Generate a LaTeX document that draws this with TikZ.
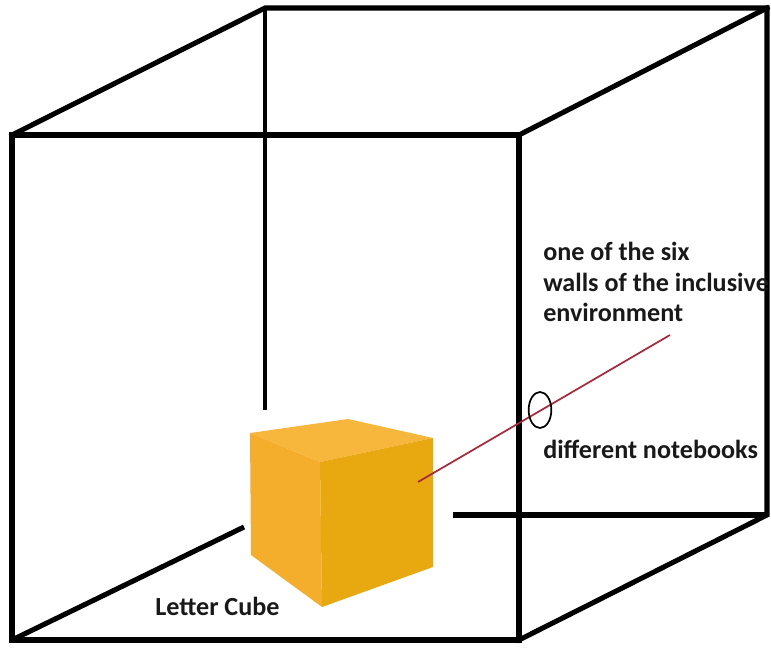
\documentclass[tikz,border=0pt]{standalone}
\usepackage{fontspec}
\setmainfont{Carlito}
\usetikzlibrary{positioning,shapes.geometric}

\definecolor{cubetop}{HTML}{F7B63C}
\definecolor{cubeleft}{HTML}{F4AE2C}
\definecolor{cuberight}{HTML}{E8A80F}
\definecolor{pointer}{HTML}{A8283A}

\tikzset{
  edge/.style={line width=3.8pt,line cap=rect,line join=miter},
  label/.style={font=\fontsize{19.6}{22.9}\selectfont\bfseries,text=black!90,inner sep=0pt}
}

\begin{document}
\begin{tikzpicture}[x=0.75pt,y=-0.75pt]
\useasboundingbox (0,0) rectangle (771,648);
% room corners, front face then back face
\coordinate (F1) at (12,135);
\coordinate (F2) at (519,135);
\coordinate (F3) at (519,640);
\coordinate (F4) at (12,640);
\coordinate (B1) at (265,8);
\coordinate (B2) at (767,8);
\coordinate (B3) at (767,515);
% where the hidden edges stop behind the letter cube
\coordinate (Bv) at (265,410);
\coordinate (Bh) at (453,515);
\coordinate (Bd) at (244,527);
\draw[edge] (F1) -- (F2) -- (F3) -- (F4) -- cycle;
\draw[edge] (F1) -- (B1) -- (B2) -- (B3) -- (F3);
\draw[edge] (F2) -- (B2);
\draw[edge,line width=3.2pt,line cap=butt] (B1) -- (Bv);
\draw[edge,line cap=butt] (Bh) -- (B3);
\draw[edge,line cap=butt] (F4) -- (Bd);
% letter cube
\coordinate (A) at (250,433);
\coordinate (B) at (348,419);
\coordinate (C) at (433,438);
\coordinate (D) at (320,462);
\coordinate (E) at (251,555);
\coordinate (F) at (322,607);
\coordinate (G) at (433,567);
\fill[cubetop] (A) -- (B) -- (C) -- (D) -- cycle;
\fill[cubeleft] (A) -- (D) -- (F) -- (E) -- cycle;
\fill[cuberight] (D) -- (C) -- (G) -- (F) -- cycle;
\node[label,anchor=base west] (cube) at (155,615) {Letter Cube};
% wall label (base is the last line) and its pointer
\node[label,anchor=base west,align=left] (wall) at (543,322)
  {one of the six\\walls of the inclusive\\environment};
\coordinate (tip) at (418,482);
\coordinate (end) at (670,335);
\draw[pointer,line width=1.3pt] (tip) -- (end);
\node[draw,line width=1.3pt,ellipse,minimum width=17pt,minimum height=27pt,inner sep=0pt] (ring) at (540,410) {};
\node[label,anchor=base west] (notes) at (543,458) {different notebooks};
\end{tikzpicture}
\end{document}
